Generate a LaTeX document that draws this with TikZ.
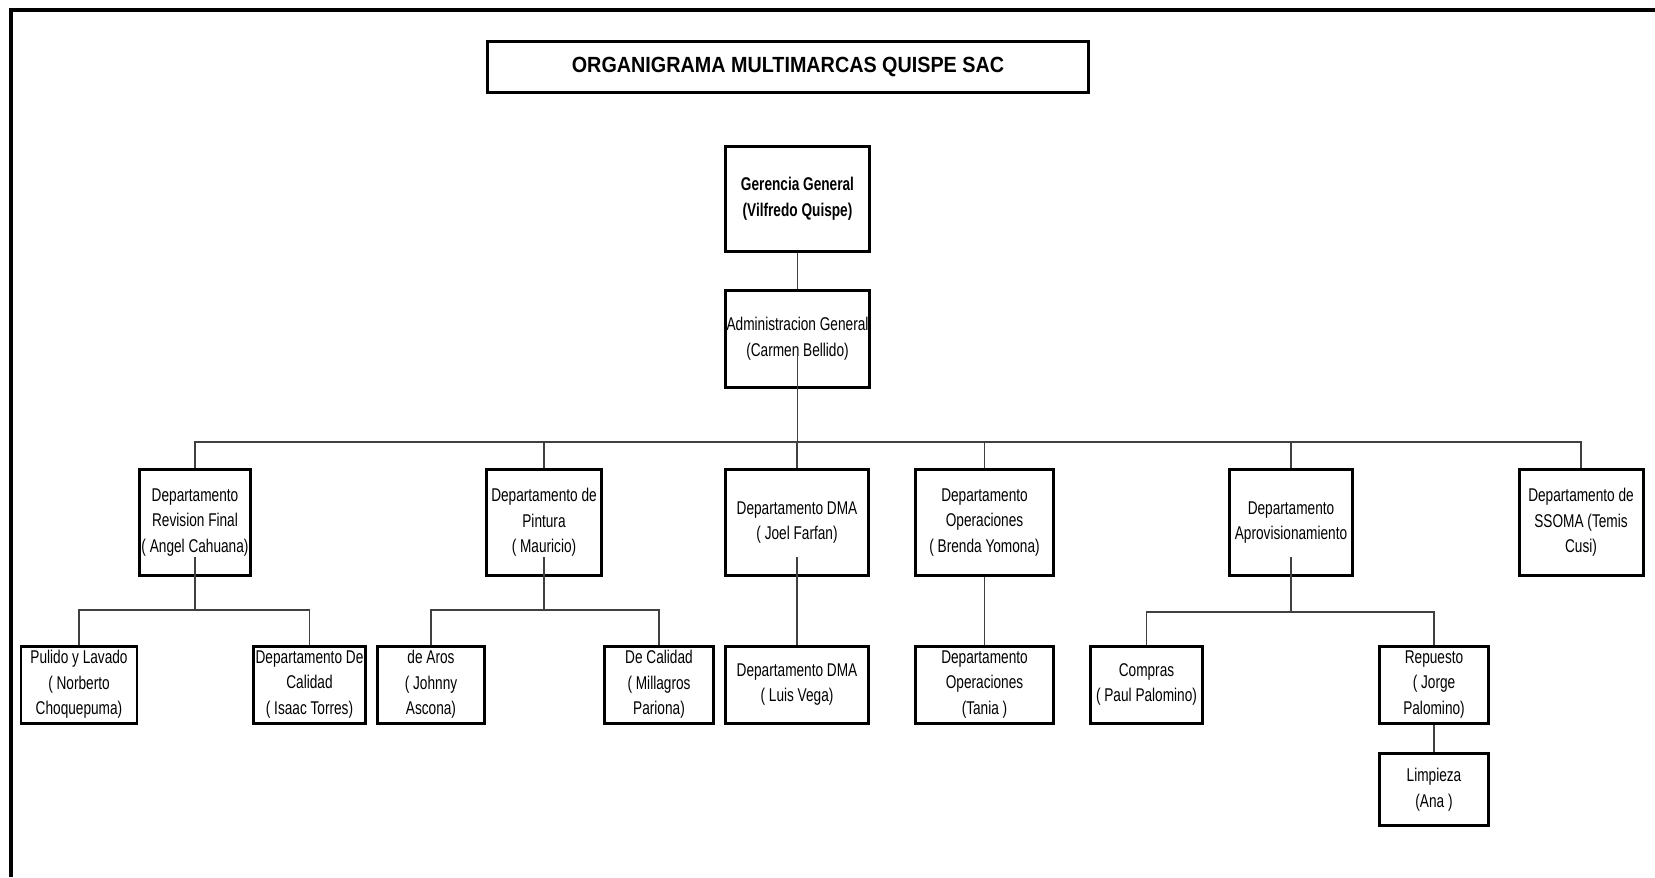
\documentclass[tikz,border=0pt]{standalone}
\usepackage{fontspec}
\setmainfont{Liberation Sans}[FakeStretch=0.74]
\newfontfamily\titulofont{Liberation Sans}[FakeStretch=0.9]

\tikzset{
  caja/.style 2 args={draw, line width=1.7pt, inner sep=0pt, align=center,
    minimum width=#1*0.02cm, minimum height=#2*0.02cm,
    font=\fontsize{10.5}{14.6}\selectfont},
  enlace/.style={draw=black!75, line width=0.9pt},
}

\begin{document}
\begin{tikzpicture}[x=0.02cm, y=-0.02cm]
  \def\filaA{522.5}
  \def\filaB{684.5}
  \useasboundingbox (0,0) rectangle (1655,877);

  % Marco
  \draw[line width=2.3pt] (11,877) -- (11,10) -- (1655,10);

  % Titulo
  \node[caja={601}{51}, font=\titulofont\bfseries\fontsize{12.5}{15}\selectfont] (titulo) at (788,67) {ORGANIGRAMA MULTIMARCAS QUISPE SAC};

  % Gerencia y administracion
  \node[caja={144}{105}, font=\bfseries\fontsize{10.5}{14.6}\selectfont] (gerencia) at (797.5,199) {Gerencia General\\(Vilfredo Quispe)};
  \node[caja={144}{97}] (admin) at (797.5,339) {Administracion General\\(Carmen Bellido)};

  % Departamentos
  \node[caja={111}{106}] (revision) at (195,\filaA) {Departamento\\Revision Final\\( Angel Cahuana)};
  \node[caja={115}{106}] (pintura) at (544,\filaA) {Departamento de\\Pintura\\( Mauricio)};
  \node[caja={143}{106}] (dma) at (797,\filaA) {Departamento DMA\\( Joel Farfan)};
  \node[caja={138}{106}] (operaciones) at (984.5,\filaA) {Departamento\\Operaciones\\( Brenda Yomona)};
  \node[caja={123}{106}] (aprov) at (1291,\filaA) {Departamento\\Aprovisionamiento};
  \node[caja={124}{106}] (ssoma) at (1581,\filaA) {Departamento de\\SSOMA (Temis\\Cusi)};

  % Areas
  \node[caja={116}{77}] (pulido) at (79,\filaB) {Pulido y Lavado\\( Norberto\\Choquepuma)};
  \node[caja={112}{77}] (calidad) at (309.5,\filaB) {Departamento De\\Calidad\\( Isaac Torres)};
  \node[caja={107}{77}] (aros) at (431,\filaB) {de Aros\\( Johnny\\Ascona)};
  \node[caja={109}{77}] (decalidad) at (659,\filaB) {De Calidad\\( Millagros\\Pariona)};
  \node[caja={143}{77}] (dmados) at (797,\filaB) {Departamento DMA\\( Luis Vega)};
  \node[caja={138}{77}] (operdos) at (984.5,\filaB) {Departamento\\Operaciones\\(Tania )};
  \node[caja={112}{77}] (compras) at (1146.5,\filaB) {Compras\\( Paul Palomino)};
  \node[caja={109}{77}] (repuesto) at (1434,\filaB) {Repuesto\\( Jorge\\Palomino)};
  \node[caja={109}{72}] (limpieza) at (1434,789.5) {Limpieza\\(Ana )};

  % Lineas
  \draw[enlace] (gerencia.south) -- (admin.north);
  \draw[enlace] ([yshift=6.6mm]admin.south) -- ([yshift=-10.6mm]admin.south) coordinate (bus);
  \draw[enlace] (revision.north) |- (bus) -| (ssoma.north);
  \foreach \n in {pintura,dma,operaciones,aprov}
    \draw[enlace] (\n.north) -- (\n.north |- bus);

  \draw[enlace] ([yshift=4mm]revision.south) -- ([yshift=-6.6mm]revision.south) coordinate (busrev);
  \draw[enlace] (pulido.north) |- (busrev) -| (calidad.north);
  \draw[enlace] ([yshift=4mm]pintura.south) -- ([yshift=-6.6mm]pintura.south) coordinate (buspin);
  \draw[enlace] (aros.north) |- (buspin) -| (decalidad.north);
  \draw[enlace] ([yshift=4mm]aprov.south) -- ([yshift=-7mm]aprov.south) coordinate (busapr);
  \draw[enlace] (compras.north) |- (busapr) -| (repuesto.north);

  \draw[enlace] ([yshift=4mm]dma.south) -- (dmados.north);
  \draw[enlace] (operaciones.south) -- (operdos.north);
  \draw[enlace] (repuesto.south) -- (limpieza.north);
\end{tikzpicture}
\end{document}
